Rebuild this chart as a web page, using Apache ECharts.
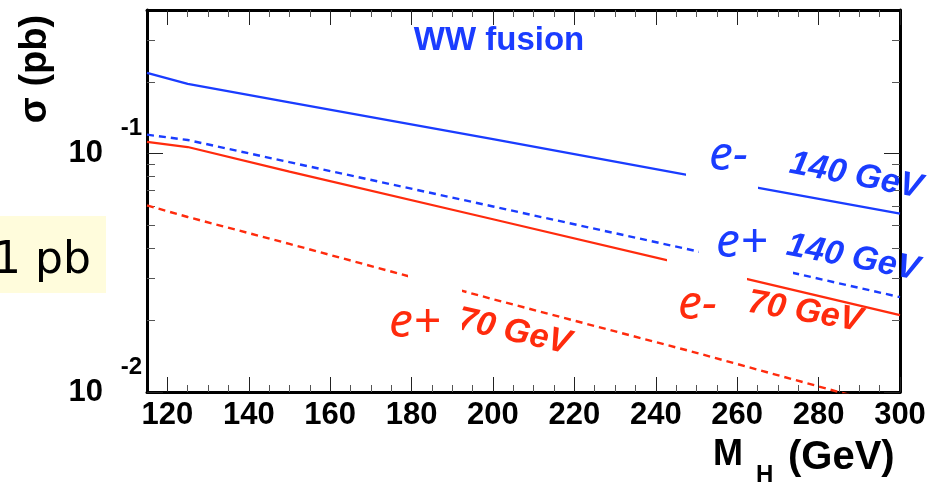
<!DOCTYPE html>
<html>
<head>
<meta charset="utf-8">
<script src="https://cdn.jsdelivr.net/npm/echarts@6/dist/echarts.min.js"></script>
<style>
  html, body { margin: 0; padding: 0; background: #ffffff; }
  #chart { width: 931px; height: 485px; }
</style>
</head>
<body>
<div id="chart"></div>
<script>
// Higgs mass points (GeV) and WW-fusion cross sections (pb)
const massGeV = [115, 125, 150, 200, 250, 300];
const sigmaEminus140 = [0.218, 0.196, 0.164, 0.115, 0.080, 0.056];
const sigmaEplus140 = [0.120, 0.114, 0.092, 0.060, 0.039, 0.025];
const sigmaEminus70 = [0.112, 0.1065, 0.084, 0.053, 0.0334, 0.021];
const sigmaEplus70 = [0.0606, 0.0542, 0.0418, 0.0245, 0.0146, 0.0085];

// Axis ranges and tick positions
const massRange = [115, 300];
const sigmaRange = [0.01, 0.4];
const xMajorTicks = [120, 140, 160, 180, 200, 220, 240, 260, 280, 300];
const xMinorTicks = [125, 130, 135, 145, 150, 155, 165, 170, 175, 185, 190, 195,
  205, 210, 215, 225, 230, 235, 245, 250, 255, 265, 270, 275, 285, 290, 295];
const yMajorTicks = [0.01, 0.1];
const yMinorTicks = [0.02, 0.03, 0.04, 0.05, 0.06, 0.07, 0.08, 0.09, 0.2, 0.3];

const BLUE = '#1a3cff';
const RED = '#ff2b0d';
const SANS = '"Liberation Sans", Arial, sans-serif';
const TAG = 'italic bold 34px ' + SANS;
const BEAM = 'italic 48px "Noto Sans", "DejaVu Sans", sans-serif';

function pairs(xs, ys) { return xs.map((x, i) => [x, ys[i]]); }

function xAxisDef(position, ticks, len, withLine, withLabels) {
  return {
    type: 'value', position: position, min: massRange[0], max: massRange[1],
    axisLine: { show: withLine, onZero: false, lineStyle: { color: '#000', width: 3 } },
    axisTick: { show: true, inside: true, length: len, customValues: ticks,
      lineStyle: { color: len > 10 ? '#222' : '#555', width: 1 } },
    axisLabel: { show: withLabels, customValues: ticks, margin: 8,
      color: '#000', fontSize: 31, fontWeight: 'bold', fontFamily: SANS },
    splitLine: { show: false }
  };
}

function yAxisDef(position, ticks, len, withLine, label) {
  return {
    type: 'log', logBase: 10, position: position, min: sigmaRange[0], max: sigmaRange[1],
    axisLine: { show: withLine, onZero: false, lineStyle: { color: '#000', width: 3 } },
    axisTick: { show: len > 0, inside: true, length: len, customValues: ticks,
      lineStyle: { color: len > 10 ? '#222' : '#555', width: 1 } },
    axisLabel: label || { show: false },
    splitLine: { show: false }, minorTick: { show: false }
  };
}

const chart = echarts.init(document.getElementById('chart'), null, { renderer: 'canvas' });

const option = {
  animation: false,
  backgroundColor: '#ffffff',
  grid: { left: 147, right: 31, top: 10, bottom: 93, containLabel: false },
  xAxis: [
    xAxisDef('bottom', xMajorTicks, 15, true, true),
    xAxisDef('bottom', xMinorTicks, 7, false, false),
    xAxisDef('top', xMajorTicks, 15, true, false),
    xAxisDef('top', xMinorTicks, 7, false, false)
  ],
  yAxis: [
    yAxisDef('left', yMajorTicks, 16, true, {
      show: true, customValues: yMajorTicks, margin: 44, formatter: () => '10',
      color: '#000', fontSize: 31, fontWeight: 'bold', fontFamily: SANS
    }),
    yAxisDef('left', yMinorTicks, 8, false, {
      show: true, customValues: yMajorTicks, margin: 5,
      formatter: v => '{e|' + String(Math.round(Math.log10(v))) + '}',
      rich: { e: { color: '#000', fontSize: 24, fontWeight: 'bold', fontFamily: SANS,
        lineHeight: 24, padding: [0, 0, 50, 0] } }
    }),
    yAxisDef('right', yMajorTicks, 16, true, null),
    yAxisDef('right', yMinorTicks, 8, false, null)
  ],
  series: [
    { name: 'e- 140 GeV', type: 'line', data: pairs(massGeV, sigmaEminus140), showSymbol: false,
      lineStyle: { color: BLUE, width: 2.2, type: 'solid' }, z: 3 },
    { name: 'e+ 140 GeV', type: 'line', data: pairs(massGeV, sigmaEplus140), showSymbol: false,
      lineStyle: { color: BLUE, width: 2.4, type: [7, 5] }, z: 3 },
    { name: 'e- 70 GeV', type: 'line', data: pairs(massGeV, sigmaEminus70), showSymbol: false,
      lineStyle: { color: RED, width: 2.2, type: 'solid' }, z: 3 },
    { name: 'e+ 70 GeV', type: 'line', data: pairs(massGeV, sigmaEplus70), showSymbol: false,
      lineStyle: { color: RED, width: 2.4, type: [7, 5] }, z: 3 }
  ],
  graphic: [
    // axis titles
    { type: 'text', x: 36, y: 69, rotation: Math.PI / 2, z: 100,
      style: { text: 'σ (pb)', align: 'center', verticalAlign: 'middle', fill: '#000',
        font: 'bold 38px ' + SANS } },
    { type: 'text', x: 713, y: 473, z: 100,
      style: { text: 'M', align: 'left', verticalAlign: 'bottom', fill: '#000',
        font: 'bold 36px ' + SANS } },
    { type: 'text', x: 756, y: 487, z: 100,
      style: { text: 'H', align: 'left', verticalAlign: 'bottom', fill: '#000',
        font: 'bold 24px ' + SANS } },
    { type: 'text', x: 788, y: 478, z: 100,
      style: { text: '(GeV)', align: 'left', verticalAlign: 'bottom', fill: '#000',
        font: 'bold 40px ' + SANS } },

    // highlighted note at the left edge
    { type: 'rect', shape: { x: 0, y: 216, width: 106, height: 77 }, z: 100,
      style: { fill: '#fffcdc' } },
    { type: 'text', x: -7, y: 262, z: 101,
      style: { text: '1 pb', align: 'left', verticalAlign: 'middle', fill: '#000',
        font: '44px "DejaVu Sans", sans-serif' } },

    // process title
    { type: 'text', x: 499, y: 41, z: 100,
      style: { text: 'WW fusion', align: 'center', verticalAlign: 'middle', fill: BLUE,
        font: 'bold 33px ' + SANS } },

    // curve labels (white boxes hide the curve behind the beam tags)
    { type: 'rect', shape: { x: 686, y: 136, width: 72, height: 56 }, z: 100, style: { fill: '#fff' } },
    { type: 'text', x: 709, y: 156, z: 101,
      style: { text: 'e-', align: 'left', verticalAlign: 'middle', fill: BLUE, font: BEAM } },
    { type: 'text', x: 856, y: 176, rotation: -0.19, z: 101,
      style: { text: '140 GeV', align: 'center', verticalAlign: 'middle', fill: BLUE, font: TAG } },

    { type: 'rect', shape: { x: 699, y: 222, width: 94, height: 53 }, z: 100, style: { fill: '#fff' } },
    { type: 'rect', shape: { x: 667, y: 255, width: 80, height: 70 }, z: 100, style: { fill: '#fff' } },
    { type: 'text', x: 716, y: 243, z: 101,
      style: { text: 'e+', align: 'left', verticalAlign: 'middle', fill: BLUE, font: BEAM } },
    { type: 'text', x: 853, y: 258, rotation: -0.19, z: 101,
      style: { text: '140 GeV', align: 'center', verticalAlign: 'middle', fill: BLUE, font: TAG } },

    { type: 'text', x: 678, y: 305, z: 101,
      style: { text: 'e-', align: 'left', verticalAlign: 'middle', fill: RED, font: BEAM } },
    { type: 'text', x: 805, y: 312, rotation: -0.17, z: 101,
      style: { text: '70 GeV', align: 'center', verticalAlign: 'middle', fill: RED, font: TAG } },

    { type: 'text', x: 514, y: 332, rotation: -0.22, z: 100,
      style: { text: '70 GeV', align: 'center', verticalAlign: 'middle', fill: RED, font: TAG } },
    { type: 'rect', shape: { x: 408, y: 262, width: 54, height: 90 }, z: 101, style: { fill: '#fff' } },
    { type: 'text', x: 389, y: 323, z: 102,
      style: { text: 'e+', align: 'left', verticalAlign: 'middle', fill: RED, font: BEAM } }
  ]
};

chart.setOption(option);
</script>
</body>
</html>
